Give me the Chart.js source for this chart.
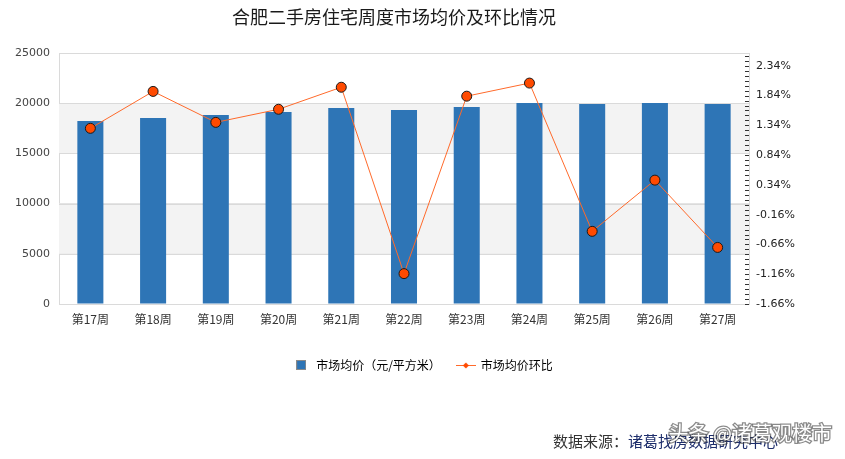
<!DOCTYPE html>
<html>
<head>
<meta charset="utf-8">
<script src="https://cdn.jsdelivr.net/npm/chart.js@4"></script>
<style>
  body { margin: 0; background: #fff; }
  #wrap { width: 845px; height: 459px; }
</style>
</head>
<body>
<div id="wrap"><canvas id="chart" width="845" height="459"></canvas></div>
<script>
const weeks = ['第17周', '第18周', '第19周', '第20周', '第21周', '第22周', '第23周', '第24周', '第25周', '第26周', '第27周'];
const avgPrice = [18230, 18530, 18830, 19130, 19530, 19330, 19630, 20030, 19930, 20030, 19930];
const ringRatio = [1.29, 1.91, 1.39, 1.61, 1.98, -1.15, 1.83, 2.05, -0.44, 0.42, -0.71];
const rightMajorTicks = [-1.66, -1.16, -0.66, -0.16, 0.34, 0.84, 1.34, 1.84, 2.34];

const titleText = '合肥二手房住宅周度市场均价及环比情况';
const sourceLabel = '数据来源：';
const sourceName = '诸葛找房数据研究中心';
const watermark = '头条 @诸葛观楼市';

const barColor = '#2e75b6';
const lineColor = '#ff6a2b';
const pointColor = '#ff4a00';
const gridColor = '#dadada';
const cjk = '"Noto Sans CJK SC", "Noto Sans", sans-serif';

// legend icons
const barIcon = document.createElement('canvas');
barIcon.width = 10; barIcon.height = 10;
(function () {
    const c = barIcon.getContext('2d');
    c.fillStyle = barColor;
    c.fillRect(0, 0, 10, 10);
    c.strokeStyle = '#8a8a8a';
    c.lineWidth = 1;
    c.strokeRect(0.5, 0.5, 9, 9);
})();
const lineIcon = document.createElement('canvas');
lineIcon.width = 20; lineIcon.height = 8;
(function () {
    const c = lineIcon.getContext('2d');
    c.strokeStyle = lineColor;
    c.lineWidth = 1;
    c.beginPath(); c.moveTo(0, 4.5); c.lineTo(20, 4.5); c.stroke();
    c.fillStyle = pointColor;
    c.beginPath(); c.moveTo(10, 1.5); c.lineTo(13, 4.5); c.lineTo(10, 7.5); c.lineTo(7, 4.5); c.closePath(); c.fill();
})();

const minorStep = 0.5 / 6;
const y1Min = -1.66, y1Max = 2.555;

const decorPlugin = {
    id: 'decor',
    beforeDatasetsDraw(chart) {
        const ctx = chart.ctx, area = chart.chartArea, y = chart.scales.y;
        ctx.save();
        ctx.fillStyle = '#f3f3f3';
        [[15000, 20000], [5000, 10000]].forEach(([a, b]) => {
            const top = y.getPixelForValue(b), bot = y.getPixelForValue(a);
            ctx.fillRect(area.left, top, area.right - area.left, bot - top);
        });
        // redraw grid lines over bands
        ctx.strokeStyle = gridColor;
        ctx.lineWidth = 1;
        y.ticks.forEach((t, i) => {
            const py = Math.round(y.getPixelForTick(i)) + 0.5;
            ctx.beginPath(); ctx.moveTo(area.left, py); ctx.lineTo(area.right, py); ctx.stroke();
        });
        ctx.restore();
    },
    afterDraw(chart) {
        const ctx = chart.ctx, area = chart.chartArea, y1 = chart.scales.y1;
        ctx.save();
        // inward tick marks on right axis
        ctx.strokeStyle = '#333';
        ctx.lineWidth = 1;
        y1.ticks.forEach((t, i) => {
            const py = Math.round(y1.getPixelForTick(i)) + 0.5;
            ctx.beginPath(); ctx.moveTo(area.right - 4, py); ctx.lineTo(area.right, py); ctx.stroke();
        });
        // title
        ctx.fillStyle = '#1a1a1a';
        ctx.font = '18px ' + cjk;
        ctx.textAlign = 'center';
        ctx.textBaseline = 'middle';
        ctx.fillText(titleText, 394, 17);
        // source
        ctx.font = '15px ' + cjk;
        ctx.textAlign = 'left';
        const sx = 553;
        ctx.fillStyle = '#333';
        ctx.fillText(sourceLabel, sx, 441);
        ctx.fillStyle = '#1d2d6b';
        ctx.fillText(sourceName, sx + ctx.measureText(sourceLabel).width, 441);
        // watermark
        ctx.font = '20px ' + cjk;
        ctx.textAlign = 'right';
        ctx.lineWidth = 2.5;
        ctx.strokeStyle = 'rgba(60,60,60,0.6)';
        ctx.strokeText(watermark, 832, 433);
        ctx.fillStyle = '#ffffff';
        ctx.fillText(watermark, 832, 433);
        ctx.restore();
    }
};

new Chart(document.getElementById('chart'), {
    type: 'bar',
    data: {
        labels: weeks,
        datasets: [
            {
                type: 'line',
                label: '市场均价环比',
                data: ringRatio,
                yAxisID: 'y1',
                borderColor: lineColor,
                borderWidth: 1,
                tension: 0,
                pointRadius: 5,
                pointHoverRadius: 5,
                pointStyle: 'circle',
                pointBackgroundColor: pointColor,
                pointBorderColor: '#1a1a1a',
                pointBorderWidth: 1,
                order: 0
            },
            {
                type: 'bar',
                label: '市场均价（元/平方米）',
                data: avgPrice,
                yAxisID: 'y',
                backgroundColor: barColor,
                categoryPercentage: 1,
                barPercentage: 0.415,
                order: 1
            }
        ]
    },
    options: {
        responsive: false,
        animation: false,
        layout: { padding: { top: 53, left: 0, right: 0, bottom: 78 } },
        plugins: {
            tooltip: { enabled: false },
            title: { display: false },
            legend: {
                position: 'bottom',
                labels: {
                    usePointStyle: true,
                    pointStyleWidth: 18,
                    padding: 16,
                    color: '#222',
                    font: { family: cjk, size: 12 },
                    generateLabels(chart) {
                        return [1, 0].map(i => ({
                            text: chart.data.datasets[i].label,
                            pointStyle: i === 1 ? barIcon : lineIcon,
                            fillStyle: 'transparent',
                            strokeStyle: 'transparent',
                            lineWidth: 0,
                            datasetIndex: i,
                            hidden: false
                        }));
                    }
                }
            }
        },
        scales: {
            x: {
                grid: { display: false, drawTicks: false },
                border: { display: true, color: gridColor },
                ticks: { color: '#333', padding: 8, font: { family: cjk, size: 12 }, maxRotation: 0 },
                afterFit(s) { s.height = 39; }
            },
            y: {
                position: 'left',
                min: 0,
                max: 25000,
                grid: { color: gridColor, drawTicks: false },
                border: { display: true, color: gridColor },
                ticks: {
                    stepSize: 5000, padding: 9, color: '#444',
                    font: { family: 'DejaVu Sans', size: 11 },
                    callback(value) { return String(value); }
                },
                afterFit(s) { s.width = 59; }
            },
            y1: {
                position: 'right',
                min: y1Min,
                max: y1Max,
                grid: { drawOnChartArea: false, drawTicks: false },
                border: { display: true, color: gridColor },
                afterBuildTicks(s) {
                    const ticks = [];
                    for (let k = 0; y1Min + k * minorStep <= y1Max + 1e-9; k++) {
                        ticks.push({ value: y1Min + k * minorStep });
                    }
                    s.ticks = ticks;
                },
                ticks: {
                    autoSkip: false,
                    padding: 7,
                    color: '#222',
                    font: { family: 'DejaVu Sans', size: 11 },
                    callback(value, index) {
                        return index % 6 === 0 ? rightMajorTicks[index / 6].toFixed(2) + '%' : '';
                    }
                },
                afterFit(s) { s.width = 96; }
            }
        }
    },
    plugins: [decorPlugin]
});
</script>
</body>
</html>
